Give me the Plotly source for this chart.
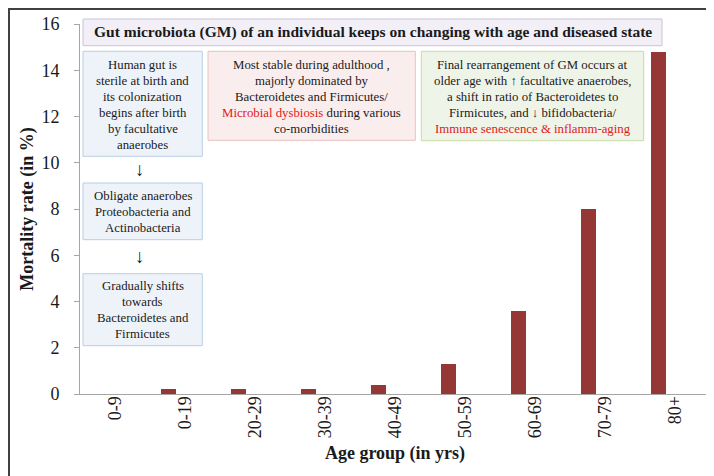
import plotly.graph_objects as go

# ---- data ----
age_groups = ["0-9", "0-19", "20-29", "30-39", "40-49", "50-59", "60-69", "70-79", "80+"]
mortality = [0.0, 0.2, 0.2, 0.2, 0.4, 1.3, 3.6, 8.0, 14.8]
y_ticks = [0, 2, 4, 6, 8, 10, 12, 14, 16]

title_text = "Gut microbiota (GM) of an individual keeps on changing with age and diseased state"
RED = "#e02020"
box1_lines = ["Human gut is", "sterile at birth and", "its colonization",
              "begins after birth", "by facultative", "anaerobes"]
box2_lines = ["Most stable during adulthood ,", "majorly dominated by",
              "Bacteroidetes and Firmicutes/",
              f"<span style='color:{RED}'>Microbial dysbiosis</span> during various",
              "co-morbidities"]
box3_lines = ["Final rearrangement of GM occurs at",
              "older age with \u2191 facultative anaerobes,",
              "a shift in ratio of Bacteroidetes to",
              "Firmicutes, and \u2193 bifidobacteria/",
              f"<span style='color:{RED}'>Immune senescence &amp; inflamm-aging</span>"]
box4_lines = ["Obligate anaerobes", "Proteobacteria and", "Actinobacteria"]
box5_lines = ["Gradually shifts", "towards", "Bacteroidetes and", "Firmicutes"]

# ---- layout geometry (pixels) ----
WIDTH, HEIGHT = 714, 476
ML, MR, MT, MB = 72, 12, 16, 90
PW = WIDTH - ML - MR
PH = HEIGHT - MT - MB


def xp(px):
    return (px - ML) / PW


def yp(py):
    return (HEIGHT - MB - py) / PH


FONT = "Liberation Serif, Times New Roman, serif"

fig = go.Figure()
fig.add_trace(go.Bar(
    x=age_groups, y=mortality,
    width=0.219, offset=-0.347,
    marker=dict(color="#953735", line=dict(width=0)),
    showlegend=False,
))

shapes = []
annotations = []


def box(x0, y0, x1, y1, fill, line):
    shapes.append(dict(type="rect", xref="paper", yref="paper",
                       x0=xp(x0), x1=xp(x1), y0=yp(y1), y1=yp(y0),
                       fillcolor=fill, line=dict(color=line, width=1), layer="above"))


def text_lines(cx, ys, lines, size=12.8, bold=False):
    for y, t in zip(ys, lines):
        annotations.append(dict(
            xref="paper", yref="paper", x=xp(cx), y=yp(y),
            text=(f"<b>{t}</b>" if bold else t), showarrow=False,
            xanchor="center", yanchor="middle",
            font=dict(family=FONT, size=size, color="#1a1a1a")))


# title box
box(75, 11, 654, 37.7, "#f2eff7", "#cdc2dc")
text_lines(365, [24.5], [title_text], size=15.5, bold=True)

# box 1 (blue)
box(75, 43.3, 194.3, 148.3, "#eef3f9", "#b9cde5")
text_lines(134.7, [56.7 + 16 * i for i in range(6)], box1_lines)

# box 2 (pink)
box(200, 43.3, 407.3, 132.3, "#faeded", "#e8c0bf")
text_lines(303.7, [56.7 + 16 * i for i in range(5)], box2_lines)

# box 3 (green)
box(413.3, 43.3, 635.7, 132.7, "#eff4e8", "#c8dba6")
text_lines(524.5, [56.7 + 16 * i for i in range(5)], box3_lines)

# arrows
text_lines(132, [161], ["\u2193"], size=19)
text_lines(132, [248], ["\u2193"], size=19)

# box 4
box(75, 175, 194.3, 231.7, "#eef3f9", "#b9cde5")
text_lines(134.7, [188.3 + 16 * i for i in range(3)], box4_lines)

# box 5
box(75, 265.7, 194.3, 337.7, "#eef3f9", "#b9cde5")
text_lines(134.7, [278.3 + 16 * i for i in range(4)], box5_lines)

# outer frame
shapes.append(dict(type="rect", xref="paper", yref="paper",
                   x0=xp(1), x1=xp(713), y0=yp(475), y1=yp(1),
                   line=dict(color="#404040", width=2), layer="above"))

fig.update_layout(
    width=WIDTH, height=HEIGHT,
    margin=dict(l=ML, r=MR, t=MT, b=MB, autoexpand=False),
    plot_bgcolor="white", paper_bgcolor="white",
    font=dict(family=FONT, color="#1a1a1a"),
    shapes=shapes, annotations=annotations,
    xaxis=dict(
        type="category", range=[-0.5, 8.5],
        showline=True, linecolor="#a6a6a6", linewidth=1,
        ticks="", tickangle=-90, tickfont=dict(size=18, family=FONT),
        ticklabelstandoff=-6,
        showgrid=False, zeroline=False,
        title=dict(text="<b>Age group (in yrs)</b>", font=dict(size=18, family=FONT), standoff=9),
    ),
    yaxis=dict(
        range=[0, 16], tickvals=y_ticks, ticktext=[str(v) for v in y_ticks],
        showline=True, linecolor="#a6a6a6", linewidth=1,
        ticks="outside", ticklen=5, tickcolor="#a6a6a6",
        tickfont=dict(size=18, family=FONT),
        ticklabelstandoff=11,
        showgrid=False, zeroline=False,
        title=dict(text="<b>Mortality rate (in %)</b>", font=dict(size=18, family=FONT), standoff=3),
    ),
    bargap=0,
)

fig.write_html("out.html")
